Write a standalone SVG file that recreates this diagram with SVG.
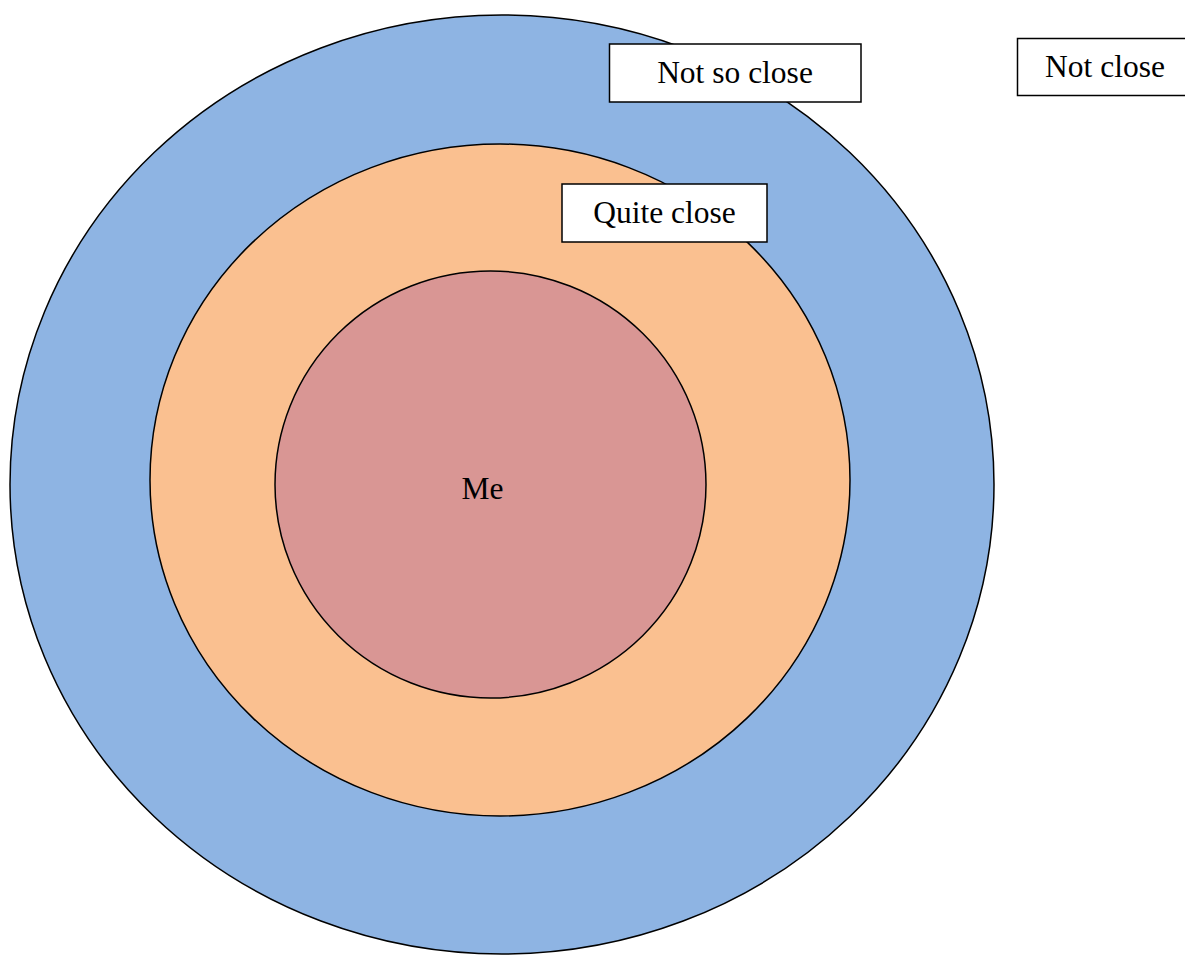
<svg xmlns="http://www.w3.org/2000/svg" width="1185" height="956" viewBox="0 0 1185 956">
<style>
.ring{stroke:#000;stroke-width:1.5}
.box{fill:#fff;stroke:#000;stroke-width:1.5}
.t{font-family:"Liberation Serif","Times New Roman",serif;font-size:31.5px;fill:#000;text-anchor:middle}
</style>
<rect width="1185" height="956" fill="#fff"/>
<g id="outer"><ellipse class="ring" cx="502" cy="484.5" rx="492" ry="469.5" fill="#8EB4E3"/></g>
<g id="middle"><ellipse class="ring" cx="500" cy="480" rx="350" ry="336" fill="#FAC090"/></g>
<g id="inner"><ellipse class="ring" cx="490.5" cy="484.5" rx="215.5" ry="213.5" fill="#D99694"/>
<text class="t" x="482.5" y="499">Me</text></g>
<g id="notsoclose"><rect class="box" x="609.5" y="44" width="251.5" height="58"/><text class="t" x="735" y="83">Not so close</text></g>
<g id="quiteclose"><rect class="box" x="562" y="184" width="205" height="58"/><text class="t" x="664.5" y="223">Quite close</text></g>
<g id="notclose"><rect class="box" x="1017.5" y="38.5" width="176" height="57"/><text class="t" x="1105" y="77">Not close</text></g>
<g id="connectors"></g>
</svg>
